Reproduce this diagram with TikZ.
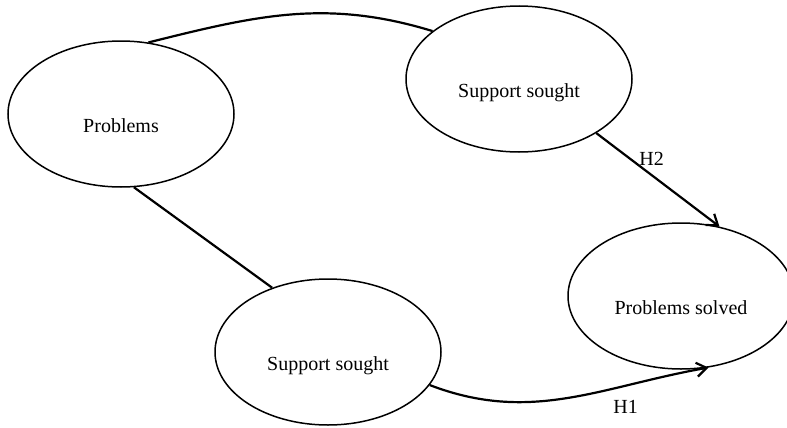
\documentclass[tikz,border=0pt]{standalone}
\usepackage{fontspec}
\setmainfont{Liberation Serif}
\usetikzlibrary{shapes.geometric,arrows.meta}

\begin{document}
\begin{tikzpicture}[x=0.5pt,y=-0.5pt,
  construct/.style={draw,ellipse,line width=0.75pt,minimum width=113pt,minimum height=73pt,
    inner sep=0pt,text height=18pt,text depth=0pt},
  link/.style={line width=1.1pt},
  hyp/.style={link,-{Straight Barb[length=5pt,width=7pt]}}]
  \useasboundingbox (0,0) rectangle (787,428);

  % constructs
  \node[construct] (prob)   at (121,114) {Problems};
  \node[construct] (seekA)  at (519,79)  {Support sought};
  \node[construct] (solved) at (681,296) {Problems solved};
  \node[construct] (seekB)  at (328,352) {Support sought};

  % plain links
  \draw[link] (prob.69) to[out=14,in=163] (seekA.151);
  \draw[link] (prob.-80) -- (seekB.131);

  % hypotheses
  \draw[hyp] (seekA.-35) -- node[pos=0.45,above=1pt] {H2} (solved.61);
  \draw[hyp] (seekB.-18) to[out=-21,in=190] node[pos=0.72,below=3.5pt] {H1} (solved.-69);
\end{tikzpicture}
\end{document}
